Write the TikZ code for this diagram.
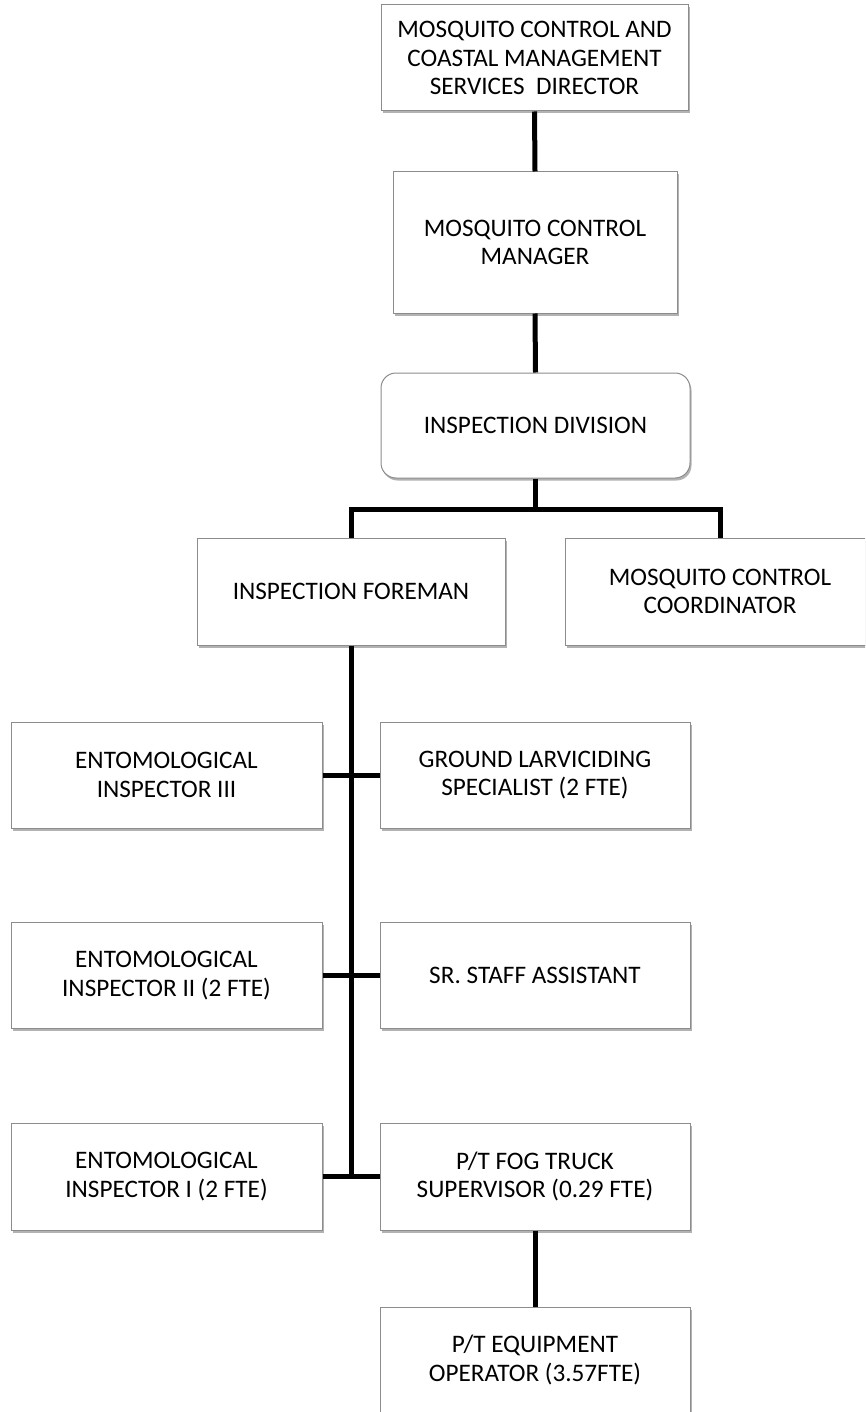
\documentclass[tikz,border=0pt]{standalone}
\usepackage{fontspec}
\setmainfont{Carlito}
\usetikzlibrary{shadows}
\begin{document}
\begin{tikzpicture}[x=1pt,y=-1pt,
  unitbox/.style={draw=black!45, line width=1pt, fill=white, align=center,
    inner sep=0pt, font=\fontsize{25.2}{28.5}\selectfont,
    drop shadow={shadow xshift=1.5pt, shadow yshift=-2.5pt, opacity=0.3, fill=black}},
  link/.style={line width=5pt, line join=miter}]
\useasboundingbox (0,0) rectangle (865,1412);
\clip (0,0) rectangle (865,1412);

% management chain
\node[unitbox, minimum width=307pt, minimum height=106pt] (dir) at (534.5,58)
  {MOSQUITO CONTROL AND\\COASTAL MANAGEMENT\\SERVICES\ \ DIRECTOR};
\node[unitbox, minimum width=284pt, minimum height=141pt] (mgr) at (535,242.5)
  {MOSQUITO CONTROL\\MANAGER};
\node[unitbox, rounded corners=15pt, minimum width=309pt, minimum height=105pt] (div) at (535.5,425.5)
  {INSPECTION DIVISION};

% second level
\node[unitbox, minimum width=308pt, minimum height=107pt] (fore) at (351,591.5)
  {INSPECTION FOREMAN};
\node[unitbox, minimum width=310pt, minimum height=107pt] (coord) at (720,591.5)
  {MOSQUITO CONTROL\\COORDINATOR};

% staff rows on both sides of the trunk
\node[unitbox, minimum width=311pt, minimum height=106pt] (ent3) at (166.5,775)
  {ENTOMOLOGICAL\\INSPECTOR III};
\node[unitbox, minimum width=310pt, minimum height=106pt] (gls) at (535,775)
  {GROUND LARVICIDING\\SPECIALIST (2 FTE)};
\node[unitbox, minimum width=311pt, minimum height=106pt] (ent2) at (166.5,975.5)
  {ENTOMOLOGICAL\\INSPECTOR II (2 FTE)};
\node[unitbox, minimum width=310pt, minimum height=106pt] (ssa) at (535,975.5)
  {SR. STAFF ASSISTANT};
\node[unitbox, minimum width=311pt, minimum height=107pt] (ent1) at (166.5,1176.5)
  {ENTOMOLOGICAL\\INSPECTOR I (2 FTE)};
\node[unitbox, minimum width=310pt, minimum height=107pt] (fog) at (535,1176.5)
  {P/T FOG TRUCK\\SUPERVISOR (0.29 FTE)};
\node[unitbox, minimum width=310pt, minimum height=106pt] (equip) at (535,1360)
  {P/T EQUIPMENT\\OPERATOR (3.57FTE)};

% connectors
\coordinate (bar) at (535.5,509);
\coordinate (trunkend) at (fore.south |- ent1.east);
\draw[link] (dir.south) -- (mgr.north);
\draw[link] (mgr.south) -- (div.north);
\draw[link] (div.south) -- (bar);
\draw[link] (fore.north) -- (fore.north |- bar) -- (coord.north |- bar) -- (coord.north);
\draw[link] (fore.south) -- (trunkend);
\draw[link] (ent3.east) -- (gls.west);
\draw[link] (ent2.east) -- (ssa.west);
\draw[link] (ent1.east) -- (fog.west);
\draw[link] (fog.south) -- (equip.north);
\end{tikzpicture}
\end{document}
